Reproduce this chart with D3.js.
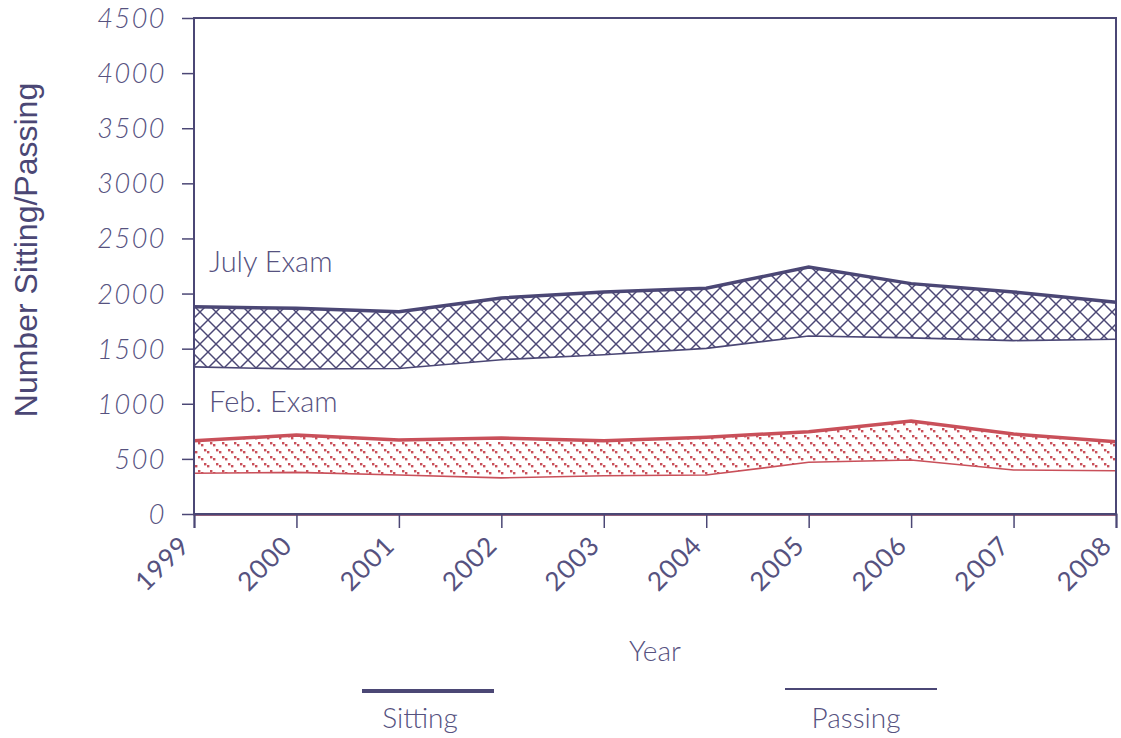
<!DOCTYPE html>
<html>
<head>
<meta charset="utf-8">
<script src="https://cdn.jsdelivr.net/npm/d3@7"></script>
<style>
  body { margin: 0; background: #fff; }
  svg { display: block; }
</style>
</head>
<body>
<div id="chart"></div>
<script>
var years = [1999, 2000, 2001, 2002, 2003, 2004, 2005, 2006, 2007, 2008];
var julySitting = [1880, 1866, 1834, 1960, 2015, 2048, 2240, 2090, 2015, 1921];
var julyPassing = [1335, 1315, 1320, 1400, 1445, 1503, 1615, 1598, 1573, 1585];
var febSitting = [665, 716, 671, 690, 665, 696, 747, 844, 726, 656];
var febPassing = [370, 378, 354, 328, 347, 354, 469, 490, 399, 393];
var yTicks = [0, 500, 1000, 1500, 2000, 2500, 3000, 3500, 4000, 4500];

var W = 1121, H = 738;
var navy = "#4b4775", red = "#c9505a", txt = "#56527f";
var margin = { top: 18, right: 5, bottom: 224, left: 194 };

var svg = d3.select("#chart").append("svg")
  .attr("width", W)
  .attr("height", H);

var defs = svg.append("defs");

// crosshatch for the July band
var hatch = defs.append("pattern")
  .attr("id", "julyHatch")
  .attr("patternUnits", "userSpaceOnUse")
  .attr("width", 16).attr("height", 16);
hatch.append("path")
  .attr("d", "M0,0 L16,16 M16,0 L0,16 M-8,8 L8,24 M8,-8 L24,8 M-8,8 L8,-8 M8,24 L24,8")
  .attr("stroke", navy)
  .attr("stroke-width", 1.45);

// dotted diagonal texture for the Feb band
var dots = defs.append("pattern")
  .attr("id", "febDots")
  .attr("patternUnits", "userSpaceOnUse")
  .attr("width", 12).attr("height", 14);
[[0, 1], [3, 3], [6, 8], [9, 10]].forEach(function (p) {
  dots.append("rect")
    .attr("x", p[0]).attr("y", p[1])
    .attr("width", 2.4).attr("height", 2.4)
    .attr("fill", red);
});

var x = d3.scaleLinear()
  .domain([years[0], years[years.length - 1]])
  .range([margin.left, W - margin.right]);
var y = d3.scaleLinear()
  .domain([0, 4500])
  .range([H - margin.bottom, margin.top]);

var x0 = x(years[0]), x1 = x(years[years.length - 1]);

function band(top, bottom, fillId, color) {
  var data = years.map(function (yr, i) { return { yr: yr, hi: top[i], lo: bottom[i] }; });
  var area = d3.area()
    .x(function (d) { return x(d.yr); })
    .y0(function (d) { return y(d.lo); })
    .y1(function (d) { return y(d.hi); });
  svg.append("path")
    .datum(data)
    .attr("d", area)
    .attr("fill", "url(#" + fillId + ")");
  // closing edges at the ends
  svg.append("line")
    .attr("x1", x0).attr("x2", x0)
    .attr("y1", y(top[0])).attr("y2", y(bottom[0]))
    .attr("stroke", color).attr("stroke-width", 2);
  svg.append("line")
    .attr("x1", x1).attr("x2", x1)
    .attr("y1", y(top[top.length - 1])).attr("y2", y(bottom[bottom.length - 1]))
    .attr("stroke", color).attr("stroke-width", 2);
  var line = d3.line().x(function (d) { return x(d.yr); });
  svg.append("path")
    .datum(data)
    .attr("d", line.y(function (d) { return y(d.lo); }))
    .attr("fill", "none").attr("stroke", color).attr("stroke-width", 1.6);
  svg.append("path")
    .datum(data)
    .attr("d", line.y(function (d) { return y(d.hi); }))
    .attr("fill", "none").attr("stroke", color).attr("stroke-width", 3.5);
}

band(julySitting, julyPassing, "julyHatch", navy);
band(febSitting, febPassing, "febDots", red);

// red passing baseline along the bottom and left
svg.append("path")
  .attr("d", "M" + x0 + "," + y(febPassing[0]) + " L" + x0 + "," + (y(0) + 1) + " L" + x1 + "," + (y(0) + 1))
  .attr("fill", "none").attr("stroke", red).attr("stroke-width", 1.5);

// frame
svg.append("rect")
  .attr("x", x0).attr("y", y(4500))
  .attr("width", x1 - x0).attr("height", y(0) - y(4500))
  .attr("fill", "none").attr("stroke", navy).attr("stroke-width", 2);

var tickFont = "Lato, 'DejaVu Sans', sans-serif";

// y axis
var yAxis = svg.append("g")
  .attr("transform", "translate(" + x0 + ",0)")
  .call(d3.axisLeft(y).tickValues(yTicks).tickSize(12).tickPadding(16).tickFormat(d3.format("d")));
yAxis.select(".domain").remove();
yAxis.selectAll("line").attr("stroke", navy).attr("stroke-width", 1.5);
yAxis.selectAll("text")
  .attr("fill", txt)
  .style("font-family", tickFont)
  .style("font-style", "italic")
  .style("font-weight", 300)
  .style("font-size", "27px")
  .style("letter-spacing", "1.5px")
  .attr("dy", "0.35em");

// x axis
var xAxis = svg.append("g")
  .attr("transform", "translate(0," + y(0) + ")")
  .call(d3.axisBottom(x).tickValues(years).tickSize(14).tickFormat(d3.format("d")));
xAxis.select(".domain").attr("stroke", navy).attr("stroke-width", 2);
xAxis.selectAll("line").attr("stroke", navy).attr("stroke-width", 1.5);
xAxis.selectAll("text")
  .attr("fill", txt)
  .style("font-family", tickFont)
  .style("font-weight", 400)
  .style("font-size", "26px")
  .style("letter-spacing", "1px")
  .attr("text-anchor", "end")
  .attr("dy", null)
  .attr("y", 0)
  .attr("transform", "translate(-3,33) rotate(-45)");

// axis titles
svg.append("text")
  .attr("transform", "translate(37,250) rotate(-90)")
  .attr("text-anchor", "middle")
  .attr("fill", navy)
  .style("font-family", "'Liberation Sans', Arial, sans-serif")
  .style("font-size", "32px")
  .text("Number Sitting/Passing");

var light = "Lato, 'Open Sans', sans-serif";
svg.append("text")
  .attr("x", (x0 + x1) / 2).attr("y", 661)
  .attr("text-anchor", "middle")
  .attr("fill", txt)
  .style("font-family", light).style("font-weight", 300)
  .style("font-size", "28px")
  .text("Year");

svg.append("text")
  .attr("x", 209).attr("y", 272)
  .attr("fill", txt)
  .style("font-family", light).style("font-weight", 300)
  .style("font-size", "29px")
  .text("July Exam");
svg.append("text")
  .attr("x", 209).attr("y", 412)
  .attr("fill", txt)
  .style("font-family", light).style("font-weight", 300)
  .style("font-size", "29px")
  .text("Feb. Exam");

// legend
var legendItems = [
  { name: "Sitting", x1: 362, x2: 494, y: 691, w: 4, tx: 420 },
  { name: "Passing", x1: 785, x2: 937, y: 689, w: 2, tx: 856 }
];
legendItems.forEach(function (d) {
  svg.append("line")
    .attr("x1", d.x1).attr("x2", d.x2)
    .attr("y1", d.y).attr("y2", d.y)
    .attr("stroke", navy).attr("stroke-width", d.w);
  svg.append("text")
    .attr("x", d.tx).attr("y", 728)
    .attr("text-anchor", "middle")
    .attr("fill", txt)
    .style("font-family", light).style("font-weight", 300)
    .style("font-size", "28px")
    .text(d.name);
});
</script>
</body>
</html>
